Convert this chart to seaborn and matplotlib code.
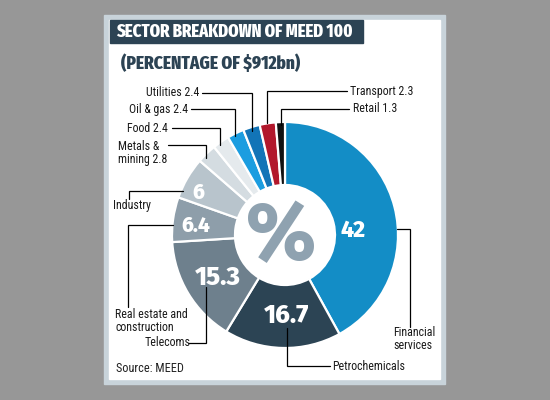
import matplotlib
matplotlib.use("Agg")
import matplotlib.pyplot as plt
from matplotlib.patches import Rectangle
import seaborn as sns

# sectors, clockwise from 12 o'clock (percentage of $912bn)
sectors = ["Financial services", "Petrochemicals", "Telecoms",
           "Real estate and construction", "Industry", "Metals & mining",
           "Food", "Oil & gas", "Utilities", "Transport", "Retail"]
shares = [42, 16.7, 15.3, 6.4, 6, 2.8, 2.4, 2.4, 2.4, 2.3, 1.3]
slice_colours = ["#138dc6", "#2c4454", "#6e808d", "#8e9eaa", "#b8c4cc",
                 "#d4dce1", "#e5eaed", "#1b9de0", "#1274b7", "#b2182c", "#111111"]
outside_labels = ["Financial\nservices", "Petrochemicals", "Telecoms",
                  "Real estate and\nconstruction", "Industry", "Metals &\nmining 2.8",
                  "Food 2.4", "Oil & gas 2.4", "Utilities 2.4", "Transport 2.3", "Retail 1.3"]
inside_labels = ["42", "16.7", "15.3", "6.4", "6"]

# layout (pixels, y down)
label_pos = [(393, 339, "left"), (332, 366, "left"), (145, 343, "left"),
             (115, 321, "left"), (113, 206, "left"), (118, 153, "left"),
             (168, 128, "right"), (188, 109, "right"), (199, 93, "right"),
             (350, 91, "left"), (353, 109, "left")]
leaders = [[(397, 229), (410, 229), (410, 327)],
           [(330, 366), (287, 366), (287, 328)],
           [(188, 343), (206, 343), (206, 287)],
           [(128, 307), (128, 225), (173, 225)],
           [(129, 199), (129, 191), (183, 191)],
           [(168, 145), (206, 145), (206, 158)],
           [(172, 128), (220, 128), (220, 145)],
           [(191, 109), (235, 109), (235, 136)],
           [(202, 93), (252, 93), (252, 131)],
           [(347, 91), (267, 91), (267, 123)],
           [(349, 109), (281, 109), (281, 125)]]
inside_pos = [(353, 230, 16.5), (287, 316, 18.5), (218, 278, 18.5), (196, 226, 15), (198, 193, 15)]
cx, cy, R = 285, 235, 113

sns.set_theme(style="white")
plt.rcParams["font.family"] = ["Roboto Condensed", "DejaVu Sans"]

fig = plt.figure(figsize=(5.5, 4), dpi=100, facecolor="#979797")

bg = fig.add_axes([0, 0, 1, 1], zorder=0)
bg.set_xlim(0, 550)
bg.set_ylim(400, 0)
bg.axis("off")
bg.add_patch(Rectangle((104, 15), 341, 369, color="#c8d3da"))
bg.add_patch(Rectangle((109, 20), 331, 359, color="white"))
bg.add_patch(Rectangle((110, 20), 253, 23, color="#2c4354"))

ax = fig.add_axes([(cx - 150) / 550, 1 - (cy + 150) / 400, 300 / 550, 300 / 400], zorder=1)
ax.pie(shares, colors=slice_colours, startangle=90, counterclock=False, radius=R,
       wedgeprops=dict(width=63, edgecolor="white", linewidth=1.6))
ax.set_xlim(-150, 150)
ax.set_ylim(-150, 150)
ax.set_aspect("equal")
ax.axis("off")

fg = fig.add_axes([0, 0, 1, 1], zorder=2)
fg.set_xlim(0, 550)
fg.set_ylim(400, 0)
fg.axis("off")
fg.patch.set_alpha(0)

fg.text(116, 32, "SECTOR BREAKDOWN OF MEED 100", color="white", fontsize=13,
        fontweight="heavy", va="center", ha="left", family="Fira Sans Extra Condensed")
fg.text(121, 63, "(PERCENTAGE OF $912bn)", color="#2c4354", fontsize=13.5,
        fontweight="heavy", va="center", ha="left", family="Fira Sans Extra Condensed")
fg.text(116, 368, "Source: MEED", color="#222222", fontsize=8.8, va="center")

for lab, (x, y, ha) in zip(outside_labels, label_pos):
    fg.text(x, y, lab, fontsize=8.6, color="#1a1a1a", ha=ha, va="center", linespacing=1.0)
for pts in leaders:
    fg.plot([p[0] for p in pts], [p[1] for p in pts], color="black", lw=0.9,
            solid_joinstyle="miter")
for lab, (x, y, fs) in zip(inside_labels, inside_pos):
    fg.text(x, y, lab, fontsize=fs, color="white", fontweight="heavy",
            ha="center", va="center", family="Fira Sans")
fg.text(281, 238, "%", fontsize=58, color="#8fa2b0", fontweight="heavy",
        ha="center", va="center", family="Fira Sans")

fig.savefig("out.png", dpi=100, facecolor=fig.get_facecolor())
